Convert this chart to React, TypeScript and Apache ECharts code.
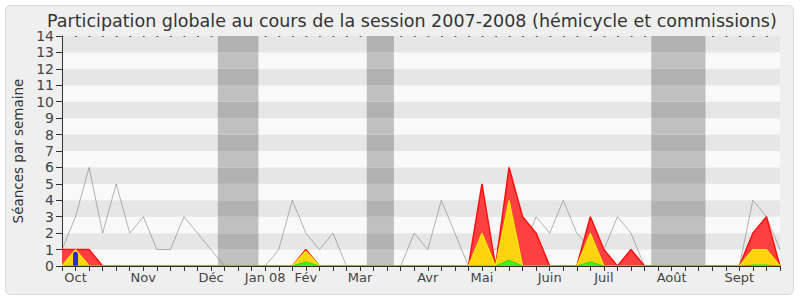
import React, { useEffect, useRef } from "react";
import * as echarts from "echarts";

const weekLabels: string[] = [
  "", "Oct", "", "", "", "", "Nov", "", "", "", "", "Déc", "", "", "", "Jan 08", "", "", "Fév", "", "", "", "Mar", "", "", "", "", "Avr", "", "", "", "Mai", "", "", "", "", "Juin", "", "", "", "Juil", "", "", "", "", "Août", "", "", "", "", "Sept", "", "", "",
];

const medianLine: number[] = [
  1, 3, 6, 2, 5, 2, 3, 1, 1, 3, 2, 1, 0, 0, 0, 0, 1, 4, 2, 1, 2, 0, 0, 0, 0, 0, 2, 1, 4, 2, 0, 1, 1, 2, 1, 3, 2, 4, 2, 1, 1, 3, 2, 0, 0, 0, 0, 0, 0, 0, 0, 4, 3, 1,
];

const presences: number[] = [
  1, 1, 1, 0, 0, 0, 0, 0, 0, 0, 0, 0, 0, 0, 0, 0, 0, 0, 1, 0, 0, 0, 0, 0, 0, 0, 0, 0, 0, 0, 0, 5, 0, 6, 3, 2, 0, 0, 0, 3, 1, 0, 1, 0, 0, 0, 0, 0, 0, 0, 0, 2, 3, 0,
];

const interventions: number[] = [
  0, 1, 0, 0, 0, 0, 0, 0, 0, 0, 0, 0, 0, 0, 0, 0, 0, 0, 0.9, 0, 0, 0, 0, 0, 0, 0, 0, 0, 0, 0, 0, 2, 0, 4, 0, 0, 0, 0, 0, 2, 0, 0, 0, 0, 0, 0, 0, 0, 0, 0, 0, 1, 1, 0,
];

const questionsEcrites: number[] = [
  0, 0, 0, 0, 0, 0, 0, 0, 0, 0, 0, 0, 0, 0, 0, 0, 0, 0, 0.25, 0, 0, 0, 0, 0, 0, 0, 0, 0, 0, 0, 0, 0, 0, 0.35, 0, 0, 0, 0, 0, 0.25, 0, 0, 0, 0, 0, 0, 0, 0, 0, 0, 0, 0.06, 0.06, 0,
];

const questionsOrales: (number | string)[] = weekLabels.map((_, i) => (i === 1 ? 0.87 : "-"));

// vacation periods: [first week index, last week index]
const vacations: number[][] = [
  [12, 14],
  [23, 24],
  [44, 47],
];

const yTicks: number[] = [0, 14];

export default function App() {
  const ref = useRef<HTMLDivElement>(null);

  useEffect(() => {
    if (!ref.current) return;
    const chart = echarts.init(ref.current, undefined, { renderer: "svg" });
    const font = "DejaVu Sans";
    chart.setOption({
      animation: false,
      textStyle: { fontFamily: font },
      graphic: [
        {
          type: "rect",
          z: -10,
          shape: { x: 5.5, y: 5.5, width: 788, height: 289, r: 5 },
          style: { fill: "#efefef", stroke: "#d9d9d9", lineWidth: 1 },
        },
      ],
      title: {
        text: "Participation globale au cours de la session 2007-2008 (hémicycle et commissions)",
        left: 47,
        top: 12,
        padding: 0,
        textStyle: { fontFamily: font, fontSize: 17.5, fontWeight: "normal", color: "#333" },
      },
      grid: { left: 62, right: 20, top: 36, bottom: 34, containLabel: false },
      xAxis: [
        {
          type: "category",
          data: weekLabels,
          boundaryGap: false,
          axisLine: { show: true, lineStyle: { color: "#3a2a2a", width: 1 } },
          axisTick: { show: true, interval: 0, length: 5, lineStyle: { color: "#333" } },
          axisLabel: { interval: 0, fontSize: 13, color: "#444", margin: 5, fontFamily: font },
          splitLine: { show: false },
          z: 5,
        },
        {
          type: "category",
          data: weekLabels,
          boundaryGap: false,
          position: "top",
          axisLine: { show: true, lineStyle: { color: "#555", width: 1, type: [1, 12.55] } },
          axisTick: { show: false },
          axisLabel: { show: false },
        },
      ],
      yAxis: {
        type: "value",
        min: yTicks[0],
        max: yTicks[1],
        interval: 1,
        name: "Séances par semaine",
        nameLocation: "middle",
        nameGap: 37,
        nameTextStyle: { fontSize: 13.5, color: "#333", fontFamily: font },
        axisLine: { show: true, lineStyle: { color: "#333", width: 1 } },
        axisTick: { show: true, length: 6, lineStyle: { color: "#333" } },
        axisLabel: { fontSize: 14, color: "#444", margin: 8, fontFamily: font },
        splitLine: { show: false },
        splitArea: { show: true, areaStyle: { color: ["#f9f9f9", "#e6e6e6"] } },
      },
      series: [
        {
          type: "custom",
          name: "vacances",
          z: 1,
          data: vacations.map((v) => [v[0], v[1], 0]),
          encode: { x: [0, 1], y: 2 },
          renderItem: (params: any, api: any) => {
            const s = api.value(0);
            const e = api.value(1);
            const bw = api.size([1, 0])[0];
            const x0 = api.coord([s, 0])[0] - bw / 2;
            const x1 = api.coord([e, 0])[0] + bw / 2;
            const children: any[] = [];
            for (let k = yTicks[0]; k < yTicks[1]; k++) {
              const yb = api.coord([s, k])[1];
              const yt = api.coord([s, k + 1])[1];
              children.push({
                type: "rect",
                shape: { x: x0, y: yt, width: x1 - x0, height: yb - yt },
                style: { fill: k % 2 === 1 ? "#b1b1b1" : "#c0c0c0" },
              });
            }
            return { type: "group", children };
          },
        },
        {
          type: "line",
          name: "médiane",
          z: 2,
          data: medianLine,
          symbol: "none",
          lineStyle: { color: "rgba(110,110,110,0.5)", width: 1 },
        },
        {
          type: "line",
          name: "présences",
          z: 3,
          data: presences,
          symbol: "none",
          lineStyle: { color: "#ff1010", width: 1.5 },
          areaStyle: { color: "#ff4040", opacity: 1 },
        },
        {
          type: "line",
          name: "interventions",
          z: 4,
          data: interventions,
          symbol: "none",
          lineStyle: { color: "#ffee00", width: 1.2 },
          areaStyle: { color: "#ffd30f", opacity: 1 },
        },
        {
          type: "line",
          name: "questions écrites",
          z: 4,
          data: questionsEcrites,
          symbol: "none",
          lineStyle: { color: "#22dd22", width: 1 },
          areaStyle: { color: "#44ee22", opacity: 1 },
        },
        {
          type: "bar",
          name: "questions orales",
          z: 4,
          data: questionsOrales,
          barWidth: 5,
          itemStyle: { color: "#2a2ad8" },
        },
      ],
    });
    return () => chart.dispose();
  }, []);

  return (
    <div
      ref={ref}
      style={{ position: "absolute", left: 0, top: 0, width: 800, height: 300, background: "#fff" }}
    />
  );
}
